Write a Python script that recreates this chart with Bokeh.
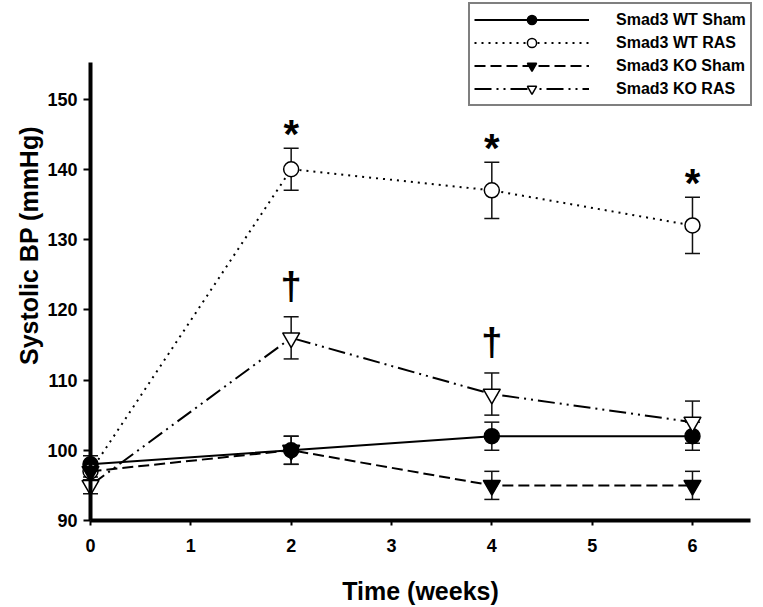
import math
from bokeh.plotting import figure
from bokeh.models import Range1d, FixedTicker, Whisker, ColumnDataSource, Legend, LegendItem, TeeHead, Label
from bokeh.core.properties import value
from bokeh.embed import file_html
from bokeh.resources import INLINE

# ---- data ----
weeks = [0, 2, 4, 6]
wt_sham = [98, 100, 102, 102]
wt_sham_err = [1.2, 2, 2, 2]
wt_ras = [97, 140, 137, 132]
wt_ras_err = [1.2, 3, 4, 4]
ko_sham = [97, 100, 95, 95]
ko_sham_err = [1.2, 2, 2, 2]
ko_ras = [95, 116, 108, 104]
ko_ras_err = [1.2, 3, 3, 3]

labels = ["Smad3 WT Sham", "Smad3 WT RAS", "Smad3 KO Sham", "Smad3 KO RAS"]
x_ticks = [0, 1, 2, 3, 4, 5, 6]
y_ticks = [90, 100, 110, 120, 130, 140, 150]
star_weeks = [2, 4, 6]      # * on WT RAS
dagger_weeks = [2, 4]       # † on KO RAS

FONT = "Liberation Sans"

# ---- layout (frame covers the whole canvas; axes are placed at fixed data locations) ----
W, H = 760, 605
px_per_week = 100.33
px_per_unit = 7.025
x0_px = 90      # pixel of week 0
y90_px = 520    # pixel of 90 mmHg (from top)
x_start = -x0_px / px_per_week
x_end = x_start + W / px_per_week
y_end = 90 + y90_px / px_per_unit
y_start = 90 - (H - y90_px) / px_per_unit

p = figure(frame_width=W, frame_height=H,
           x_range=Range1d(x_start, x_end), y_range=Range1d(y_start, y_end),
           output_backend="svg", toolbar_location=None,
           min_border_left=0, min_border_right=0,
           min_border_top=0, min_border_bottom=0)
p.outline_line_color = None
p.xgrid.visible = False
p.ygrid.visible = False
p.background_fill_color = "white"

series = [
    (wt_sham, wt_sham_err, "solid", "circle", "black", 15),
    (wt_ras, wt_ras_err, "2 5", "circle", "white", 15),
    (ko_sham, ko_sham_err, "11 5", "inverted_triangle", "black", 17),
    (ko_ras, ko_ras_err, "17 5 2 5 2 5", "inverted_triangle", "white", 17),
]

items = []
for (vals, errs, dash, marker, fill, size), lab in zip(series, labels):
    src = ColumnDataSource(dict(x=weeks, y=vals,
                                upper=[v + e for v, e in zip(vals, errs)],
                                lower=[v - e for v, e in zip(vals, errs)]))
    w = Whisker(base="x", upper="upper", lower="lower", source=src,
                line_color="#111111", line_width=1.5,
                upper_head=TeeHead(size=15, line_width=1.5, line_color="#111111"),
                lower_head=TeeHead(size=15, line_width=1.5, line_color="#111111"))
    p.add_layout(w)
    ln = p.line("x", "y", source=src, line_color="black", line_width=2, line_dash=dash)
    sc = p.scatter("x", "y", source=src, marker=marker, size=size,
                   fill_color=fill, line_color="black", line_width=1.5)
    items.append(LegendItem(label=lab, renderers=[ln, sc]))

# significance marks
star_y = [wt_ras[weeks.index(w)] + wt_ras_err[weeks.index(w)] for w in star_weeks]
p.text(x=star_weeks, y=star_y, text=["*"] * len(star_weeks),
       text_font=value(FONT), text_font_style="bold", text_font_size="40px",
       text_align="center", text_baseline="alphabetic", y_offset=-14, text_color="black")
dag_y = [ko_ras[weeks.index(w)] + ko_ras_err[weeks.index(w)] for w in dagger_weeks]
p.text(x=dagger_weeks, y=dag_y, text=["\u2020"] * len(dagger_weeks),
       text_font=value(FONT), text_font_style="bold", text_font_size="38px",
       text_align="center", text_baseline="alphabetic", y_offset=-31, text_color="black")

# axes
p.xaxis.ticker = FixedTicker(ticks=x_ticks)
p.yaxis.ticker = FixedTicker(ticks=y_ticks)
p.yaxis.fixed_location = 0
p.xaxis.fixed_location = 90
p.xaxis.bounds = (0, 6.58)
p.yaxis.bounds = (90, 155.2)
for ax in (p.xaxis[0], p.yaxis[0]):
    ax.axis_line_width = 4
    ax.axis_line_color = "black"
    ax.major_tick_line_width = 2
    ax.major_tick_line_color = "black"
    ax.major_tick_in = 0
    ax.minor_tick_line_color = None
    ax.major_label_text_font = FONT
    ax.major_label_text_font_style = "bold"
    ax.major_label_text_font_size = "18px"
    ax.major_label_text_color = "black"
    ax.axis_label_text_font = FONT
    ax.axis_label_text_font_style = "bold"
    ax.axis_label_text_font_size = "25px"
    ax.axis_label_text_color = "black"
p.xaxis.major_tick_out = 5
p.xaxis.major_label_standoff = 13
p.xaxis.axis_label = "Time (weeks)"
p.xaxis.axis_label_standoff = 22
p.yaxis.major_tick_out = 7
p.yaxis.major_label_standoff = 6

# y-axis title, centred where the original places it
p.add_layout(Label(x=x_start + 28 / px_per_week, y=y_end - 245 / px_per_unit,
                   text="Systolic BP (mmHg)", angle=math.pi / 2,
                   text_align="center", text_baseline="middle",
                   text_font=FONT, text_font_style="bold", text_font_size="25px",
                   text_color="black"))

legend = Legend(items=items, location=(468, H - 106), margin=0, padding=4,
                spacing=0, glyph_width=115, glyph_height=23, label_standoff=27,
                label_text_font=FONT, label_text_font_style="bold",
                label_text_font_size="16px", label_text_color="black",
                border_line_color="black", border_line_width=2,
                background_fill_color="white", background_fill_alpha=1)
p.add_layout(legend)

open("out.html", "w").write(file_html(p, INLINE))
